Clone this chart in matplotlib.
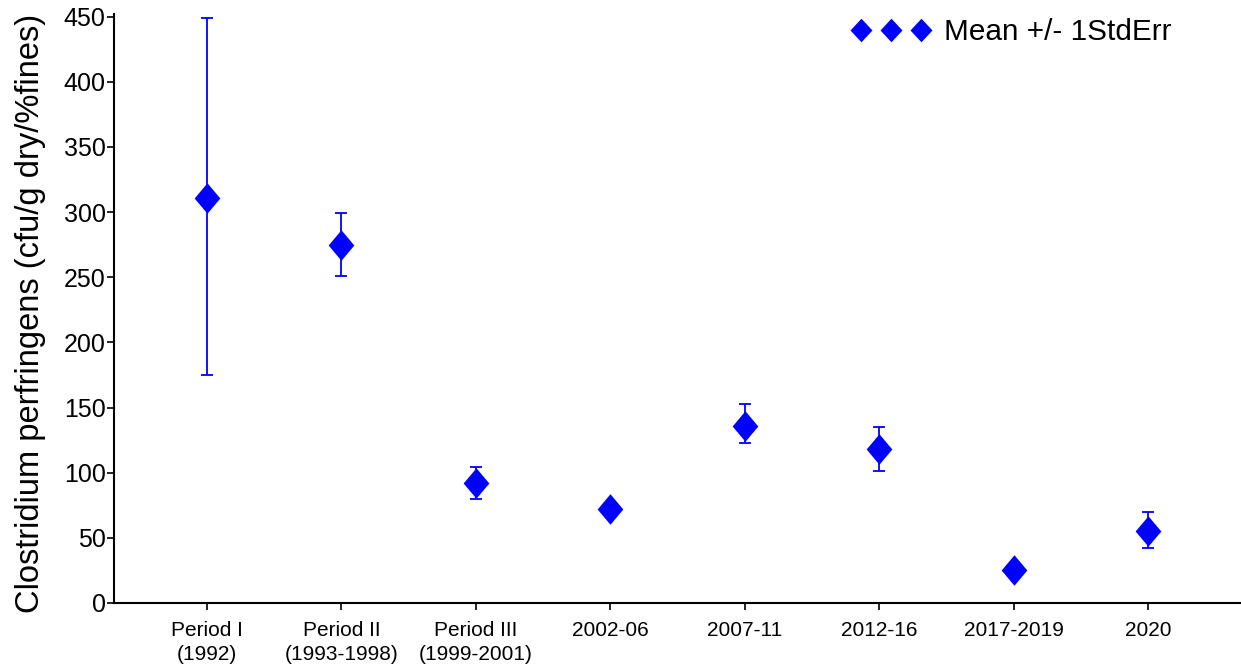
import numpy as np
import matplotlib
matplotlib.use("Agg")
import matplotlib.pyplot as plt
from matplotlib.path import Path
from matplotlib.lines import Line2D

plt.rcParams['font.family'] = ['Liberation Sans', 'DejaVu Sans']

categories = ["Period I\n(1992)", "Period II\n(1993-1998)", "Period III\n(1999-2001)",
              "2002-06", "2007-11", "2012-16", "2017-2019", "2020"]
means = [311, 275, 92, 72, 136, 118, 25, 55]
err_low = [136, 24, 12, 5, 13.5, 17, 3, 13]
err_high = [138, 24, 12, 5, 16.5, 17, 3, 15]

yticks = [0, 50, 100, 150, 200, 250, 300, 350, 400, 450]

blue = (0, 0, 1)


def diamond_path(w):
    return Path([(0, 1), (w, 0), (0, -1), (-w, 0), (0, 1)],
                [Path.MOVETO, Path.LINETO, Path.LINETO, Path.LINETO, Path.CLOSEPOLY])


fig = plt.figure(figsize=(12.41, 6.67), dpi=100)
ax = fig.add_axes([0.0919, 0.096, 0.9081, 0.883])

x = np.arange(len(categories))
ax.errorbar(x, means, yerr=[err_low, err_high], fmt='none', ecolor=blue,
            elinewidth=1.3, capsize=4, capthick=1.3, zorder=2)
ax.plot(x, means, linestyle='none', marker=diamond_path(0.84), markersize=22,
        color=blue, markeredgewidth=0, zorder=3)

ax.set_xlim(-0.69, 7.69)
ax.set_ylim(0, 452)
ax.set_xticks(x)
ax.set_xticklabels(categories, fontsize=15, linespacing=1.3)
ax.set_yticks(yticks)
ax.tick_params(axis='y', labelsize=18, length=5, width=1.2, pad=1)
ax.tick_params(axis='x', length=5, width=1.2, pad=8)
ax.set_ylabel("Clostridium perfringens (cfu/g dry/%fines)", fontsize=23.5, labelpad=12.5)
ax.yaxis.label.set_y(0.492)

for side in ('top', 'right'):
    ax.spines[side].set_visible(False)
for side in ('left', 'bottom'):
    ax.spines[side].set_linewidth(1.5)

legend_handle = Line2D([], [], linestyle='none', marker=diamond_path(0.93),
                       markersize=17, color=blue, markeredgewidth=0)
fig.legend(handles=[legend_handle], labels=['Mean +/- 1StdErr'], loc='upper right',
           numpoints=3, frameon=False, fontsize=21.4, handlelength=2.6,
           handletextpad=0.5, bbox_to_anchor=(1172 / 1241, 1 - 18 / 667),
           borderaxespad=0, borderpad=0)

fig.savefig("out.png", dpi=100)
